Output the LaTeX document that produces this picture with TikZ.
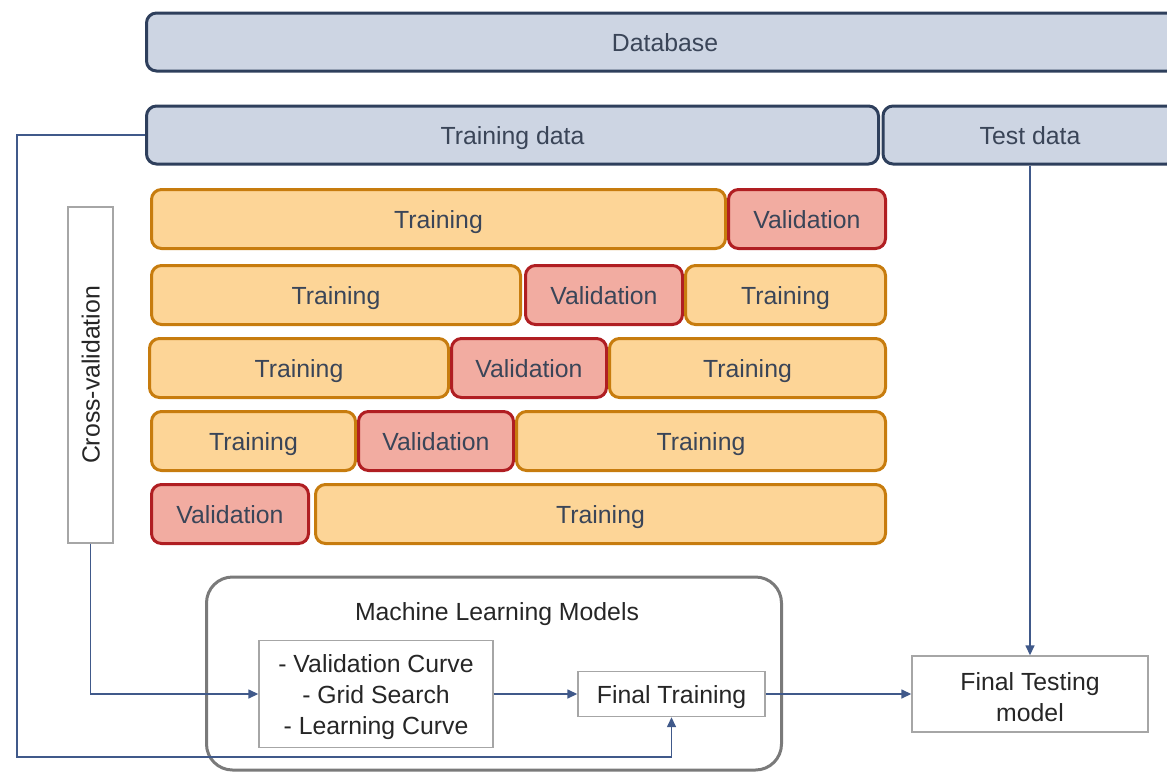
\documentclass[tikz,border=0pt]{standalone}
\usepackage{fontspec}
\setmainfont{Liberation Sans}
\usetikzlibrary{arrows.meta}
\definecolor{dataline}{HTML}{2E3F5C}
\definecolor{datafill}{HTML}{CDD5E3}
\definecolor{trainline}{HTML}{C77C0E}
\definecolor{trainfill}{HTML}{FDD597}
\definecolor{valline}{HTML}{B01E22}
\definecolor{valfill}{HTML}{F2ACA1}
\definecolor{flowline}{HTML}{40598A}
\definecolor{labeltext}{HTML}{3A4558}
\definecolor{mlgray}{HTML}{7A7A7A}
\newcommand\liftline{\rule{0pt}{0.97em}}

\begin{document}
\begin{tikzpicture}[x=0.5pt, y=-0.5pt, font=\fontsize{12.4}{15.5}\selectfont,
 oneline/.style={text height=0.9em, text depth=0pt},
 datablk/.style={oneline, draw=dataline, fill=datafill, line width=1.5pt, rounded corners=5pt, minimum height=29pt, inner sep=0pt, text=labeltext},
 fold/.style={oneline, line width=1.5pt, rounded corners=5pt, minimum height=29.5pt, inner sep=0pt, text=labeltext},
 trn/.style={fold, draw=trainline, fill=trainfill},
 val/.style={fold, draw=valline, fill=valfill},
 plain/.style={draw=gray!70, line width=0.7pt, inner sep=0pt, align=center, text=black!85},
 flow/.style={-{Triangle[length=5pt,width=4.5pt]}, flowline, line width=0.75pt}]

\useasboundingbox (0,0) rectangle (1167,772);
\clip (0,0) rectangle (1167,772);

\node[datablk, minimum width=518.5pt](db) at (665,42){Database};
\node[datablk, minimum width=366pt](train) at (512.5,135){Training data};
\node[datablk, minimum width=147pt](test) at (1030,135){Test data};

% folds: kind / text / left / right / row centre
\foreach \kind/\txt/\xa/\xb/\yy [count=\i] in
  {trn/Training/150/727/219, val/Validation/727/887/219,
   trn/Training/150/522/295, val/Validation/524/684/295, trn/Training/684/887/295,
   trn/Training/148/450/368, val/Validation/450/608/368, trn/Training/608/887/368,
   trn/Training/150/357/441, val/Validation/357/515/441, trn/Training/515/887/441,
   val/Validation/150/310/514, trn/Training/314/887/514}
  {\node[\kind, minimum width={(\xb-\xa)*0.5pt-1.5pt}](f\i) at ({(\xa+\xb)/2},\yy){\txt};}

\node[plain, oneline, rotate=90, minimum width=168pt, minimum height=22.5pt](cv) at (90.5,375){Cross-validation};

\node[draw=mlgray, line width=1.5pt, rounded corners=13pt, minimum width=287.5pt, minimum height=96.5pt](ml) at (494,673.5){};
\node[oneline, text=black!85](mltitle) at (497,611){Machine Learning Models};
\node[plain, minimum width=117pt, minimum height=53.5pt](mlist) at (376,694)
  {\liftline- Validation Curve\\- Grid Search\\- Learning Curve};
\node[plain, oneline, minimum width=93.5pt, minimum height=22.5pt](ftrain) at (671.5,694){Final Training};
\node[plain, minimum width=118pt, minimum height=38pt](ftest) at (1030,694){\liftline Final Testing\\model};

\draw[flow](train.west) -| (17,757) -| (ftrain.south);
\draw[flow](cv.west) |- (mlist.west);
\draw[flow](mlist.east) -- (ftrain.west);
\draw[flow](ftrain.east) -- (ftest.west);
\draw[flow](test.south) -- (ftest.north);

\end{tikzpicture}
\end{document}
